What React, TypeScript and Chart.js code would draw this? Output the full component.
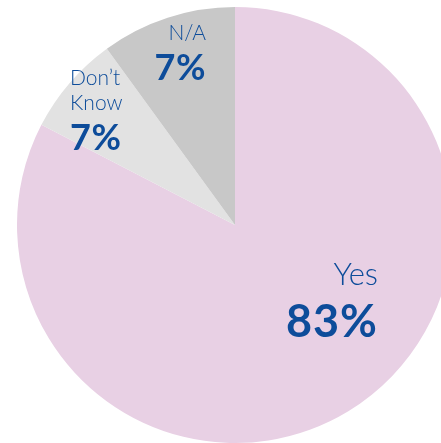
import React, { useEffect, useRef } from "react";
import { Chart, registerables } from "chart.js";

Chart.register(...registerables);

const categories = ["Yes", "Don’t Know", "N/A"];
// slice sizes
const values = [82.6, 7.4, 10.0];
// percentages printed on the chart
const shownPercents = ["83%", "7%", "7%"];
const labelLines = [["Yes"], ["Don’t", "Know"], ["N/A"]];
const colors = ["#E8D0E4", "#E2E2E2", "#C8C8C8"];

const TEXT_COLOR = "#0D4C9A";
const FONT = "Lato, 'Open Sans', sans-serif";

const labelPlugin = {
  id: "sliceLabels",
  afterDatasetsDraw(chart: any) {
    const meta = chart.getDatasetMeta(0);
    const arc0 = meta.data[0];
    if (!arc0) return;
    const cx = arc0.x;
    const cy = arc0.y;
    const ctx = chart.ctx;
    ctx.save();
    ctx.fillStyle = TEXT_COLOR;
    ctx.textBaseline = "alphabetic";
    const layout: any[] = [
      { dx: 143, align: "right", lines: [60], pct: 112, nameSize: 31, pctSize: 45, ls: 1 },
      { dx: -165, align: "left", lines: [-140, -115], pct: -75, nameSize: 21, pctSize: 36, ls: 0.5 },
      { dx: -29, align: "right", lines: [-185], pct: -145, nameSize: 21, pctSize: 36, ls: 0.5 },
    ];
    layout.forEach((l, i) => {
      ctx.textAlign = l.align;
      (ctx as any).letterSpacing = "0px";
      ctx.font = `300 ${l.nameSize}px ${FONT}`;
      labelLines[i].forEach((t, j) => ctx.fillText(t, cx + l.dx, cy + l.lines[j]));
      (ctx as any).letterSpacing = `${l.ls}px`;
      ctx.font = `700 ${l.pctSize}px ${FONT}`;
      ctx.fillText(shownPercents[i], cx + l.dx, cy + l.pct);
    });
    ctx.restore();
  },
};

export default function App() {
  const ref = useRef<HTMLCanvasElement>(null);
  useEffect(() => {
    if (!ref.current) return;
    const chart = new Chart(ref.current, {
      type: "pie",
      data: {
        labels: categories,
        datasets: [
          {
            data: values,
            backgroundColor: colors,
            borderWidth: 0,
          },
        ],
      },
      options: {
        responsive: false,
        animation: false,
        layout: { padding: 0 },
        plugins: {
          legend: { display: false },
          tooltip: { enabled: false },
        },
      },
      plugins: [labelPlugin],
    });
    return () => chart.destroy();
  }, []);
  return (
    <div
      style={{
        position: "fixed",
        left: 0,
        top: 0,
        width: 441,
        height: 443,
        overflow: "hidden",
        background: "#fff",
      }}
    >
      <div style={{ position: "absolute", left: 17, top: 7 }}>
        <canvas ref={ref} width={436} height={436} style={{ display: "block" }} />
      </div>
    </div>
  );
}
